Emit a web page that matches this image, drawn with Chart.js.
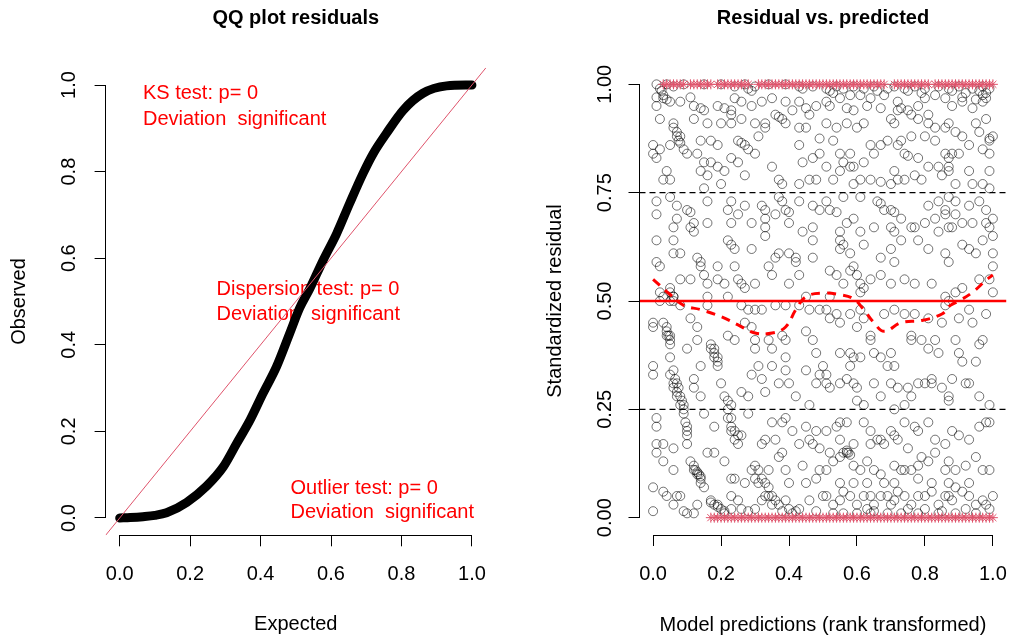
<!DOCTYPE html>
<html>
<head>
<meta charset="utf-8">
<script src="https://cdn.jsdelivr.net/npm/chart.js@4.4.1/dist/chart.umd.min.js"></script>
<style>
  html, body { margin: 0; padding: 0; background: #fff; }
  #wrap { position: relative; width: 1023px; height: 639px; overflow: hidden; }
  canvas { position: absolute; top: 0; }
  #qq { left: 0; }
  #res { left: 511px; }
</style>
</head>
<body>
<div id="wrap">
  <canvas id="qq" width="511" height="639"></canvas>
  <canvas id="res" width="512" height="639"></canvas>
</div>
<script>
// --- DATA ---
const qqTicks = [0, 0.2, 0.4, 0.6, 0.8, 1.0];
const residTicks = [0, 0.25, 0.5, 0.75, 1.0];
const predTicks = [0, 0.2, 0.4, 0.6, 0.8, 1.0];

// QQ plot: expected vs observed quantiles
const qqExpected = [0, 0.03, 0.066, 0.1, 0.133, 0.19, 0.247, 0.294, 0.332, 0.37, 0.407, 0.445, 0.483, 0.511, 0.54, 0.578, 0.616, 0.653, 0.691, 0.72, 0.757, 0.805, 0.861, 0.928, 1.0];
const qqObserved = [0, 0.001, 0.003, 0.006, 0.012, 0.036, 0.074, 0.118, 0.172, 0.226, 0.288, 0.349, 0.427, 0.485, 0.53, 0.596, 0.657, 0.727, 0.796, 0.842, 0.888, 0.942, 0.981, 0.998, 1.0];
const refLine = [-0.04, 1.04];

// test annotations (x, y of each line in data units)
const ksNote = { x: 0.066, y: [0.98, 0.921], lines: ['KS test: p= 0', 'Deviation  significant'] };
const dispNote = { x: 0.275, y: [0.527, 0.469], lines: ['Dispersion test: p= 0', 'Deviation  significant'] };
const outNote = { x: 0.485, y: [0.069, 0.012], lines: ['Outlier test: p= 0', 'Deviation  significant'] };

// residual vs predicted, [prediction rank, scaled residual]
const residUpperLeft = [[0.01,1.0],[0.04,1.0],[0.06,0.995],[0.09,1.0],[0.15,1.0],[0.2,1.0],[0.24,0.995],[0.27,1.0],[0.3,0.995],[0.34,1.0],[0.39,1.0],[0.43,0.995],[0.47,0.995],
  [0.01,0.97],[0.03,0.968],[0.05,0.96],[0.03,0.975],[0.01,0.95],[0.08,0.96],[0.12,0.95],[0.14,0.945],[0.15,0.94],[0.19,0.95],[0.21,0.945],[0.23,0.94],[0.23,0.93],[0.24,0.968],[0.26,0.96],[0.29,0.95],[0.35,0.968],[0.39,0.96],[0.43,0.96],[0.45,0.945],[0.46,0.93],[0.48,0.95],
  [0.02,0.92],[0.06,0.91],[0.06,0.9],[0.07,0.89],[0.08,0.88],[0.12,0.92],[0.16,0.91],[0.2,0.91],[0.23,0.91],[0.26,0.92],[0.3,0.91],[0.33,0.91],[0.33,0.9],[0.38,0.92],[0.39,0.91],[0.43,0.9],[0.45,0.9],[0.49,0.875],
  [0.0,0.86],[0.0,0.84],[0.01,0.83],[0.02,0.85],[0.05,0.86],[0.09,0.85],[0.1,0.84],[0.13,0.84],[0.17,0.87],[0.19,0.86],[0.15,0.82],[0.17,0.82],[0.19,0.81],[0.23,0.83],[0.25,0.82],[0.27,0.86],[0.28,0.85],[0.3,0.84],[0.31,0.88],[0.43,0.86],[0.44,0.82],[0.47,0.83],[0.49,0.84],
  [0.04,0.8],[0.03,0.78],[0.05,0.78],[0.14,0.8],[0.16,0.79],[0.21,0.8],[0.2,0.77],[0.27,0.79],[0.35,0.81],[0.37,0.78],[0.38,0.77],[0.43,0.77],[0.46,0.78],[0.48,0.78],[0.15,0.76],
  [0.01,0.73],[0.05,0.74],[0.07,0.72],[0.1,0.71],[0.11,0.705],[0.16,0.73],[0.23,0.73],[0.27,0.72],[0.32,0.72],[0.33,0.71],[0.37,0.74],[0.38,0.73],[0.39,0.71],[0.4,0.705],[0.43,0.73],[0.47,0.72],[0.49,0.71],[0.01,0.7],[0.07,0.69],[0.12,0.68],[0.22,0.71],[0.23,0.68],[0.25,0.7],[0.29,0.68],[0.33,0.69],
  [0.01,0.64],[0.06,0.64],[0.06,0.67],[0.11,0.67],[0.12,0.66],[0.16,0.68],[0.22,0.64],[0.23,0.63],[0.24,0.62],[0.29,0.62],[0.33,0.67],[0.33,0.65],[0.36,0.7],[0.4,0.68],[0.44,0.66],[0.47,0.67],[0.47,0.64],[0.06,0.61],[0.08,0.61],[0.37,0.61],[0.36,0.6],[0.4,0.61],
  [0.01,0.59],[0.02,0.58],[0.13,0.6],[0.14,0.59],[0.14,0.58],[0.15,0.56],[0.16,0.54],[0.19,0.58],[0.24,0.58],[0.19,0.55],[0.21,0.54],[0.25,0.55],[0.26,0.54],[0.27,0.53],[0.3,0.54],[0.34,0.58],[0.35,0.56],[0.4,0.54],[0.42,0.6],[0.42,0.59],[0.43,0.56],[0.47,0.6],[0.45,0.51],[0.02,0.52],[0.03,0.51],[0.08,0.55],[0.16,0.51],[0.22,0.51],[0.11,0.55],
  [0.05,0.53],[0.05,0.52],[0.06,0.51],[0.05,0.5],[0.06,0.5],
  [0.02,0.99],[0.025,0.985],[0.04,0.965],[0.07,0.88],[0.075,0.87],[0.08,0.865],[0.11,0.97],[0.28,0.99],[0.29,0.985],[0.36,0.93],[0.37,0.925],[0.32,0.96],[0.25,0.87],[0.26,0.865],[0.14,0.87],[0.44,0.99],[0.41,0.94]];

const residUpperRight = [[0.51,0.99],[0.54,0.995],[0.56,0.99],[0.59,0.995],[0.62,0.99],[0.65,0.995],[0.69,0.99],[0.71,0.995],[0.74,0.99],[0.77,0.995],[0.8,0.99],[0.84,0.995],[0.87,0.99],[0.9,0.995],[0.94,0.99],[0.97,0.995],[0.99,0.99],
  [0.51,0.96],[0.52,0.95],[0.55,0.968],[0.57,0.945],[0.59,0.94],[0.61,0.975],[0.64,0.968],[0.67,0.945],[0.72,0.96],[0.73,0.945],[0.75,0.94],[0.78,0.95],[0.8,0.968],[0.81,0.93],[0.86,0.968],[0.88,0.95],[0.91,0.96],[0.94,0.945],[0.97,0.975],[0.98,0.968],[0.98,0.92],
  [0.51,0.91],[0.54,0.9],[0.57,0.91],[0.6,0.9],[0.62,0.91],[0.7,0.92],[0.71,0.91],[0.73,0.87],[0.76,0.93],[0.78,0.92],[0.81,0.91],[0.83,0.9],[0.86,0.9],[0.87,0.91],[0.89,0.89],[0.91,0.88],[0.95,0.91],[0.96,0.89],[0.99,0.875],[1.0,0.88],
  [0.53,0.87],[0.55,0.84],[0.56,0.82],[0.58,0.84],[0.59,0.81],[0.62,0.82],[0.64,0.86],[0.65,0.84],[0.67,0.86],[0.69,0.87],[0.72,0.86],[0.74,0.84],[0.75,0.835],[0.76,0.88],[0.78,0.83],[0.8,0.88],[0.83,0.87],[0.86,0.84],[0.87,0.83],[0.88,0.84],[0.9,0.84],[0.93,0.86],[0.97,0.85],[0.99,0.87],[0.99,0.84],
  [0.51,0.81],[0.53,0.78],[0.55,0.8],[0.58,0.81],[0.59,0.77],[0.61,0.78],[0.64,0.78],[0.67,0.775],[0.7,0.77],[0.71,0.8],[0.72,0.78],[0.74,0.78],[0.77,0.79],[0.79,0.78],[0.81,0.81],[0.84,0.81],[0.85,0.79],[0.87,0.8],[0.87,0.81],[0.89,0.77],[0.93,0.8],[0.94,0.77],[0.97,0.77],[0.99,0.8],[0.99,0.76],
  [0.51,0.73],[0.52,0.71],[0.54,0.705],[0.56,0.74],[0.61,0.74],[0.66,0.73],[0.67,0.725],[0.68,0.71],[0.7,0.71],[0.71,0.705],[0.81,0.72],[0.84,0.73],[0.86,0.71],[0.87,0.74],[0.89,0.73],[0.93,0.72],[0.96,0.73],[0.98,0.71],[1.0,0.69],[0.99,0.67],
  [0.55,0.66],[0.57,0.68],[0.61,0.66],[0.59,0.69],[0.65,0.67],[0.7,0.67],[0.71,0.66],[0.73,0.69],[0.76,0.67],[0.77,0.67],[0.8,0.68],[0.83,0.69],[0.86,0.7],[0.87,0.67],[0.89,0.7],[0.91,0.68],[0.94,0.68],[0.98,0.68],[1.0,0.65],
  [0.55,0.64],[0.55,0.62],[0.56,0.63],[0.58,0.61],[0.59,0.58],[0.62,0.63],[0.67,0.6],[0.7,0.62],[0.71,0.59],[0.73,0.64],[0.78,0.64],[0.81,0.62],[0.84,0.66],[0.86,0.61],[0.87,0.59],[0.88,0.67],[0.91,0.63],[0.93,0.62],[0.95,0.61],[0.97,0.64],[1.0,0.61],[1.0,0.58],
  [0.52,0.57],[0.54,0.56],[0.58,0.57],[0.6,0.56],[0.61,0.54],[0.62,0.53],[0.64,0.55],[0.67,0.56],[0.7,0.54],[0.74,0.55],[0.77,0.54],[0.82,0.54],[0.86,0.51],[0.89,0.52],[0.91,0.53],[0.96,0.55],[0.99,0.55],[1.0,0.52],[0.52,0.51],[0.56,0.54],[0.61,0.52],
  [0.52,0.985],[0.53,0.98],[0.58,0.975],[0.66,0.985],[0.68,0.975],[0.75,0.985],[0.79,0.98],[0.83,0.975],[0.88,0.985],[0.92,0.98],[0.96,0.985],[0.98,0.98],[0.91,0.97],[0.63,0.95],[0.72,0.94],[0.97,0.96],[0.95,0.965]];

const residLowerLeft = [[0.02,0.5],[0.06,0.51],[0.08,0.49],[0.16,0.49],[0.26,0.49],[0.28,0.48],[0.3,0.48],[0.32,0.48],[0.36,0.49],[0.39,0.49],[0.43,0.49],[0.46,0.48],[0.49,0.48],
  [0.0,0.45],[0.0,0.44],[0.03,0.45],[0.04,0.44],[0.04,0.42],[0.05,0.41],[0.05,0.4],[0.11,0.46],[0.13,0.44],[0.1,0.39],[0.13,0.41],[0.17,0.4],[0.18,0.39],[0.19,0.37],[0.22,0.42],[0.24,0.41],[0.27,0.45],[0.29,0.44],[0.3,0.41],[0.3,0.39],[0.34,0.41],[0.35,0.39],[0.38,0.42],[0.39,0.41],[0.45,0.43],[0.47,0.41],[0.48,0.38],[0.5,0.35],
  [0.0,0.35],[0.0,0.33],[0.05,0.37],[0.05,0.33],[0.06,0.31],[0.06,0.3],[0.07,0.29],[0.07,0.28],[0.08,0.26],[0.09,0.25],[0.12,0.32],[0.12,0.3],[0.14,0.35],[0.14,0.28],[0.19,0.35],[0.2,0.31],[0.21,0.28],[0.22,0.27],[0.23,0.26],[0.26,0.29],[0.28,0.28],[0.29,0.33],[0.31,0.35],[0.32,0.32],[0.33,0.29],[0.35,0.35],[0.37,0.31],[0.39,0.37],[0.39,0.34],[0.4,0.31],[0.42,0.28],[0.45,0.34],[0.46,0.26],[0.48,0.31],[0.49,0.33],
  [0.01,0.23],[0.01,0.21],[0.09,0.24],[0.1,0.21],[0.1,0.19],[0.1,0.17],[0.15,0.24],[0.18,0.21],[0.22,0.23],[0.23,0.21],[0.23,0.2],[0.24,0.18],[0.25,0.17],[0.26,0.19],[0.28,0.24],[0.32,0.17],[0.33,0.18],[0.35,0.22],[0.36,0.18],[0.38,0.22],[0.39,0.23],[0.41,0.2],[0.43,0.17],[0.45,0.21],[0.46,0.18],[0.47,0.17],[0.48,0.2],[0.49,0.16],
  [0.01,0.17],[0.01,0.15],[0.03,0.17],[0.06,0.16],[0.03,0.13],[0.06,0.11],[0.11,0.13],[0.12,0.11],[0.13,0.1],[0.14,0.09],[0.14,0.08],[0.15,0.07],[0.16,0.15],[0.18,0.15],[0.21,0.13],[0.23,0.09],[0.24,0.09],[0.27,0.08],[0.29,0.11],[0.3,0.09],[0.31,0.08],[0.33,0.05],[0.34,0.11],[0.37,0.14],[0.38,0.15],[0.39,0.11],[0.4,0.08],[0.44,0.12],[0.45,0.08],[0.48,0.09],[0.49,0.11],
  [0.0,0.07],[0.0,0.015],[0.03,0.06],[0.04,0.05],[0.06,0.03],[0.07,0.05],[0.08,0.05],[0.09,0.015],[0.1,0.01],[0.12,0.01],[0.13,0.03],[0.17,0.04],[0.19,0.03],[0.21,0.015],[0.23,0.02],[0.23,0.05],[0.25,0.04],[0.26,0.02],[0.28,0.015],[0.3,0.02],[0.32,0.04],[0.34,0.05],[0.35,0.03],[0.38,0.015],[0.39,0.04],[0.41,0.01],[0.43,0.02],[0.46,0.04],[0.48,0.015],[0.5,0.05]];

// dense diagonal streaks visible in the lower left
const residStreaks = [[0.04,0.43],[0.045,0.42],[0.05,0.42],[0.06,0.34],[0.065,0.32],[0.07,0.31],[0.075,0.3],[0.08,0.28],[0.085,0.27],[0.09,0.26],[0.095,0.22],[0.1,0.2],
  [0.17,0.39],[0.18,0.38],[0.18,0.37],[0.19,0.36],
  [0.12,0.12],[0.125,0.11],[0.13,0.105],[0.135,0.1],[0.14,0.095],
  [0.17,0.035],[0.18,0.03],[0.19,0.025],[0.2,0.02],[0.21,0.01],
  [0.22,0.25],[0.23,0.23],[0.24,0.2],[0.25,0.19],
  [0.3,0.12],[0.31,0.11],[0.32,0.09],[0.33,0.08],[0.34,0.07],[0.35,0.05],[0.36,0.04],[0.37,0.03],[0.4,0.02],[0.42,0.015]];

const residLowerRight = [[0.51,0.48],[0.52,0.46],[0.54,0.47],[0.55,0.45],[0.58,0.47],[0.6,0.44],[0.61,0.48],[0.62,0.46],[0.68,0.47],[0.71,0.48],[0.74,0.47],[0.77,0.47],[0.81,0.46],[0.85,0.45],[0.86,0.49],[0.87,0.5],[0.9,0.46],[0.93,0.48],[0.94,0.45],[0.98,0.47],
  [0.55,0.38],[0.58,0.38],[0.59,0.37],[0.61,0.37],[0.64,0.42],[0.64,0.41],[0.65,0.38],[0.67,0.37],[0.69,0.35],[0.7,0.38],[0.71,0.35],[0.76,0.42],[0.76,0.41],[0.79,0.41],[0.81,0.39],[0.83,0.41],[0.84,0.38],[0.89,0.41],[0.9,0.38],[0.91,0.36],[0.95,0.36],[0.96,0.4],[0.97,0.41],[0.51,0.33],[0.58,0.35],
  [0.51,0.31],[0.52,0.3],[0.55,0.31],[0.57,0.32],[0.59,0.31],[0.6,0.3],[0.65,0.31],[0.67,0.28],[0.7,0.31],[0.72,0.3],[0.75,0.3],[0.76,0.28],[0.78,0.31],[0.8,0.31],[0.82,0.32],[0.82,0.31],[0.85,0.3],[0.87,0.28],[0.87,0.27],[0.88,0.32],[0.92,0.31],[0.93,0.31],[0.96,0.28],[0.99,0.26],[0.62,0.26],[0.6,0.27],[0.71,0.25],[0.74,0.26],
  [0.51,0.2],[0.54,0.21],[0.55,0.22],[0.57,0.22],[0.62,0.22],[0.64,0.2],[0.66,0.18],[0.67,0.18],[0.7,0.2],[0.71,0.19],[0.74,0.22],[0.77,0.21],[0.78,0.2],[0.81,0.22],[0.83,0.18],[0.86,0.17],[0.88,0.2],[0.9,0.19],[0.93,0.18],[0.96,0.21],[0.98,0.22],[0.99,0.22],[0.52,0.15],[0.55,0.18],[0.56,0.15],[0.59,0.17],[0.64,0.17],[0.68,0.17],[0.72,0.18],[0.75,0.16],
  [0.51,0.11],[0.53,0.13],[0.55,0.14],[0.57,0.15],[0.59,0.12],[0.61,0.11],[0.63,0.13],[0.65,0.11],[0.67,0.1],[0.68,0.08],[0.71,0.12],[0.73,0.11],[0.74,0.11],[0.76,0.11],[0.78,0.12],[0.79,0.14],[0.81,0.13],[0.83,0.15],[0.86,0.11],[0.87,0.13],[0.89,0.11],[0.92,0.12],[0.95,0.14],[0.97,0.11],[0.99,0.11],[0.55,0.08],[0.59,0.08],[0.63,0.08],[0.71,0.08],[0.78,0.09],[0.82,0.08],[0.87,0.08],[0.93,0.08],
  [0.51,0.05],[0.53,0.03],[0.55,0.04],[0.56,0.06],[0.58,0.05],[0.6,0.03],[0.62,0.05],[0.64,0.05],[0.65,0.03],[0.67,0.05],[0.69,0.05],[0.71,0.04],[0.72,0.06],[0.74,0.05],[0.76,0.03],[0.78,0.05],[0.8,0.05],[0.82,0.06],[0.84,0.03],[0.86,0.05],[0.87,0.05],[0.89,0.07],[0.91,0.06],[0.93,0.05],[0.95,0.03],[0.97,0.04],[0.99,0.02],[1.0,0.05],[0.53,0.01],[0.56,0.01],[0.6,0.01],[0.64,0.01],[0.69,0.01],[0.73,0.01],[0.78,0.01],[0.84,0.01],[0.89,0.01],[0.95,0.01],
  [0.57,0.155],[0.575,0.15],[0.58,0.145],[0.63,0.02],[0.65,0.015],[0.7,0.03],[0.75,0.02],[0.8,0.02],[0.85,0.015],[0.88,0.04],[0.92,0.02],[0.98,0.03]];

// simulation outliers (drawn as red asterisks at 1 and 0)
const outlierHighX = [0.03,0.04,0.05,0.06,0.07,0.08,0.09,0.11,0.12,0.13,0.14,0.15,0.16,0.17,0.19,0.2,0.21,0.22,0.23,0.24,0.25,0.26,0.27,0.28,
  0.31,0.32,0.33,0.34,0.35,0.36,0.37,0.38,0.39,0.4,0.41,0.42,0.43,0.44,0.45,0.46,0.47,0.48,0.49,0.5,0.51,0.52,0.53,0.54,0.55,0.56,0.57,0.58,0.59,0.6,0.61,0.62,0.63,0.64,0.65,0.66,0.67,0.68,
  0.71,0.72,0.73,0.74,0.75,0.76,0.77,0.78,0.79,0.8,0.81,0.83,0.84,0.85,0.86,0.87,0.88,0.89,0.9,0.91,0.92,0.93,0.94,0.95,0.96,0.97,0.98,0.99,1.0];
const outlierLowX = [0.17,0.18,0.19,0.2,0.21,0.22,0.23,0.24,0.25,0.26,0.27,0.28,0.29,0.3,0.31,0.32,0.33,0.34,0.35,0.36,0.37,0.38,0.39,0.4,0.41,0.42,0.43,0.44,0.45,0.46,0.47,0.48,0.49,0.5,
  0.51,0.52,0.53,0.54,0.55,0.56,0.57,0.58,0.59,0.6,0.61,0.62,0.63,0.64,0.65,0.66,0.67,0.68,0.69,0.7,0.71,0.72,0.73,0.74,0.75,0.76,0.77,0.78,0.79,0.8,0.81,0.82,0.83,0.84,0.85,0.86,0.87,0.88,0.89,0.9,0.91,0.92,0.93,0.94,0.95,0.96,0.97,0.98,0.99,1.0];

// 0.5 quantile regression (dashed red)
const quantX = [0.0, 0.05, 0.09, 0.14, 0.2, 0.25, 0.3, 0.35, 0.39, 0.42, 0.45, 0.5, 0.555, 0.59, 0.62, 0.65, 0.68, 0.73, 0.79, 0.85, 0.875, 0.9, 0.94, 0.98, 1.0];
const quantY = [0.55, 0.515, 0.49, 0.48, 0.464, 0.445, 0.426, 0.426, 0.44, 0.48, 0.51, 0.518, 0.514, 0.505, 0.48, 0.45, 0.43, 0.45, 0.455, 0.47, 0.49, 0.5, 0.52, 0.548, 0.56];
const quantLevels = [0.25, 0.5, 0.75];

// --- SETUP ---
const FONT = '"Liberation Sans", Arial, sans-serif';
Chart.defaults.font.family = FONT;
Chart.defaults.font.size = 20;
Chart.defaults.color = '#000';
Chart.defaults.animation = false;

const pairs = (xs, ys) => xs.map((x, i) => ({ x: x, y: ys[i] }));
const pts = arr => arr.map(p => ({ x: p[0], y: p[1] }));
const hline = v => [{ x: -0.04, y: v }, { x: 1.04, y: v }];

// R-like panel decorations: axis lines between first/last tick, title, red notes
const rPanel = {
  id: 'rPanel',
  beforeDatasetsDraw(chart, args, opts) {
    const { ctx, scales: { x, y } } = chart;
    ctx.save();
    ctx.fillStyle = '#ff0000';
    ctx.font = '20px ' + FONT;
    ctx.textBaseline = 'middle';
    ctx.textAlign = 'left';
    (opts.notes || []).forEach(n => {
      n.lines.forEach((line, i) => ctx.fillText(line, x.getPixelForValue(n.x), y.getPixelForValue(n.y[i])));
    });
    ctx.restore();
  },
  afterDraw(chart, args, opts) {
    const { ctx, chartArea: a, scales: { x, y } } = chart;
    const xt = x.ticks, yt = y.ticks;
    ctx.save();
    ctx.strokeStyle = '#000';
    ctx.lineWidth = 1;
    ctx.beginPath();
    ctx.moveTo(x.getPixelForValue(xt[0].value), Math.round(a.bottom) + 0.5);
    ctx.lineTo(x.getPixelForValue(xt[xt.length - 1].value), Math.round(a.bottom) + 0.5);
    ctx.moveTo(Math.round(a.left) - 0.5, y.getPixelForValue(yt[0].value));
    ctx.lineTo(Math.round(a.left) - 0.5, y.getPixelForValue(yt[yt.length - 1].value));
    ctx.stroke();
    ctx.fillStyle = '#000';
    ctx.font = 'bold 20px ' + FONT;
    ctx.textAlign = 'center';
    ctx.textBaseline = 'middle';
    ctx.fillText(opts.title, (a.left + a.right) / 2, 18.5);
    ctx.restore();
  }
};

function axis(ticks, digits, label, fitSize, isY, titlePad, tickPad) {
  return {
    type: 'linear', min: -0.04, max: 1.04,
    afterBuildTicks: s => { s.ticks = ticks.map(v => ({ value: v })); },
    afterFit: s => { if (isY) s.width = fitSize; else s.height = fitSize; },
    grid: { drawOnChartArea: false, drawTicks: true, tickLength: 11, color: '#000' },
    border: { display: false },
    ticks: {
      color: '#000', font: { size: 20 }, padding: tickPad,
      minRotation: isY ? 90 : 0, maxRotation: isY ? 90 : 0,
      crossAlign: isY ? 'center' : 'near',
      callback: v => Number(v).toFixed(digits)
    },
    title: { display: true, text: label, color: '#000', font: { size: 20 }, padding: isY ? { top: titlePad } : { bottom: titlePad } }
  };
}

// --- LEFT PANEL: QQ plot ---
new Chart(document.getElementById('qq'), {
  type: 'scatter',
  data: {
    datasets: [
      { data: pairs(refLine, refLine), showLine: true, borderColor: '#DF536B', borderWidth: 1, pointRadius: 0, order: 1 },
      { data: pairs(qqExpected, qqObserved), showLine: true, borderColor: '#000', borderWidth: 9, borderCapStyle: 'round', borderJoinStyle: 'round', cubicInterpolationMode: 'monotone', pointRadius: 0, order: 2 }
    ]
  },
  options: {
    responsive: false,
    layout: { padding: { top: 67.7, right: 25, left: 0, bottom: 0 } },
    scales: {
      x: axis(qqTicks, 1, 'Expected', 103.7, false, 3, 16),
      y: axis(qqTicks, 1, 'Observed', 105.6, true, 7.5, 11.5)
    },
    plugins: {
      legend: { display: false }, tooltip: { enabled: false },
      rPanel: { title: 'QQ plot residuals', notes: [ksNote, dispNote, outNote] }
    }
  },
  plugins: [rPanel]
});

// --- RIGHT PANEL: residual vs predicted ---
const circleStyle = { pointStyle: 'circle', pointRadius: 4.5, pointBorderWidth: 1, pointBorderColor: 'rgba(0,0,0,0.55)', pointBackgroundColor: 'rgba(0,0,0,0)', order: 5 };
const starStyle = { pointStyle: 'star', pointRadius: 5, pointBorderWidth: 1, pointBorderColor: '#DF536B', pointBackgroundColor: '#DF536B', order: 4 };

new Chart(document.getElementById('res'), {
  type: 'scatter',
  data: {
    datasets: [
      Object.assign({ data: pts(residUpperLeft) }, circleStyle),
      Object.assign({ data: pts(residUpperRight) }, circleStyle),
      Object.assign({ data: pts(residLowerLeft) }, circleStyle),
      Object.assign({ data: pts(residStreaks) }, circleStyle),
      Object.assign({ data: pts(residLowerRight) }, circleStyle),
      Object.assign({ data: outlierHighX.map(x => ({ x: x, y: 1 })) }, starStyle),
      Object.assign({ data: outlierLowX.map(x => ({ x: x, y: 0 })) }, starStyle),
      { data: hline(quantLevels[0]), showLine: true, borderColor: '#000', borderWidth: 1.2, borderDash: [6, 4], pointRadius: 0, order: 3 },
      { data: hline(quantLevels[2]), showLine: true, borderColor: '#000', borderWidth: 1.2, borderDash: [6, 4], pointRadius: 0, order: 3 },
      { data: pairs(quantX, quantY), showLine: true, borderColor: '#ff0000', borderWidth: 3, borderDash: [9, 7], tension: 0.4, pointRadius: 0, order: 2 },
      { data: hline(quantLevels[1]), showLine: true, borderColor: '#ff0000', borderWidth: 2.5, pointRadius: 0, order: 1 }
    ]
  },
  options: {
    responsive: false,
    layout: { padding: { top: 67, right: 1.2, left: 0, bottom: 0 } },
    scales: {
      x: axis(predTicks, 1, 'Model predictions (rank transformed)', 104, false, 2, 16),
      y: axis(residTicks, 2, 'Standardized residual', 128.5, true, 32, 3.5)
    },
    plugins: {
      legend: { display: false }, tooltip: { enabled: false },
      rPanel: { title: 'Residual vs. predicted', notes: [] }
    }
  },
  plugins: [rPanel]
});
</script>
</body>
</html>
